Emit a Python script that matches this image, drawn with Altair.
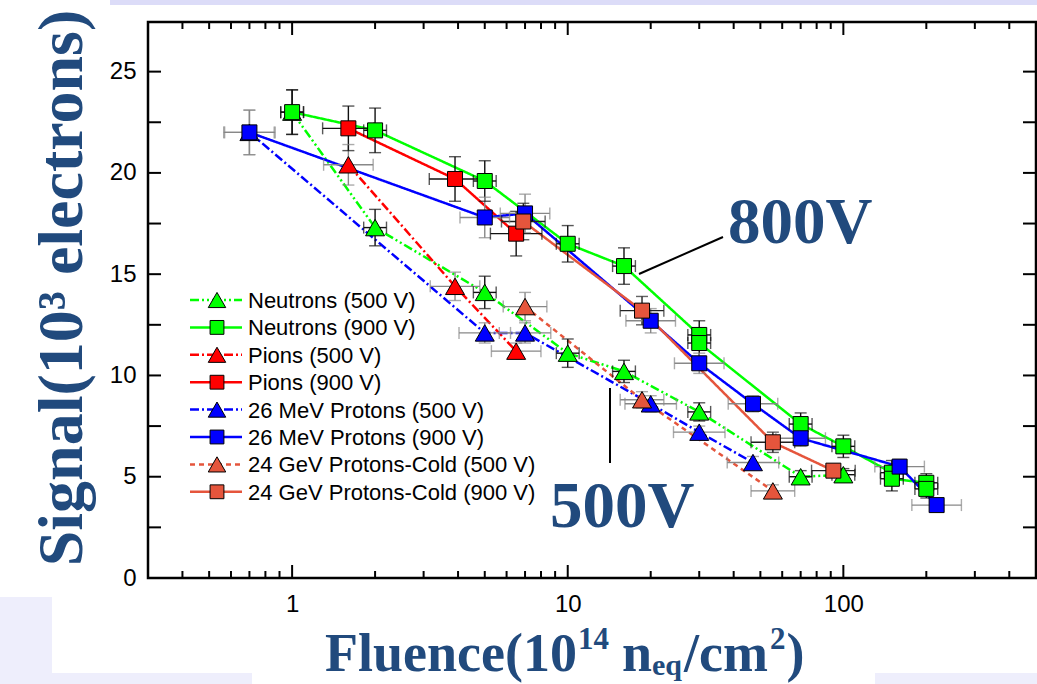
import altair as alt
import pandas as pd

# ---------------- data ----------------
names = ["Neutrons (500 V)", "Neutrons (900 V)", "Pions (500 V)", "Pions (900 V)",
         "26 MeV Protons (500 V)", "26 MeV Protons (900 V)",
         "24 GeV Protons-Cold (500 V)", "24 GeV Protons-Cold (900 V)"]
colors = ["#00FF00", "#00FF00", "#FF0000", "#FF0000",
          "#0000FF", "#0000FF", "#E5553C", "#E5553C"]
shapes = ["triangle-up", "square"] * 4
dashes = [[9, 3, 2, 3, 2, 3], [1, 0], [9, 3, 2, 3], [1, 0],
          [9, 3, 2, 3], [1, 0], [5, 4], [1, 0]]
err_colors = ["#111111", "#111111", "#888888", "#111111",
              "#888888", "#888888", "#888888", "#222222"]
x_err_factor = [1.1, 1.1, 1.23, 1.24, 1.24, 1.23, 1.2, 1.2]

n500_x = [1, 2, 5, 10, 16, 30, 70, 100]
n500_y = [23.0, 17.3, 14.1, 11.1, 10.2, 8.2, 5.0, 5.1]
n500_e = [1.1, 0.9, 0.8, 0.7, 0.55, 0.45, 0.3, 0.3]
n900_x = [1, 2, 5, 10, 16, 30, 30, 70, 100, 150, 150, 200, 200]
n900_y = [23.0, 22.1, 19.6, 16.5, 15.4, 12.0, 11.6, 7.6, 6.5, 5.2, 4.9, 4.7, 4.4]
n900_e = [1.1, 1.1, 1.0, 0.9, 0.9, 0.7, 0.7, 0.55, 0.55, 0.6, 0.6, 0.45, 0.45]
p500_x = [1.6, 3.9, 6.5]
p500_y = [20.4, 14.4, 11.2]
p500_e = [1.0, 0.7, 0.4]
p900_x = [1.6, 3.9, 6.5]
p900_y = [22.2, 19.7, 17.0]
p900_e = [1.1, 1.1, 1.1]
b500_x = [0.7, 5, 7, 20, 30, 47]
b500_y = [22.0, 12.1, 12.1, 8.6, 7.2, 5.7]
b500_e = [1.1, 0.5, 0.5, 0.4, 0.3, 0.3]
b900_x = [0.7, 5, 7, 20, 30, 47, 70, 160, 218]
b900_y = [22.0, 17.8, 18.0, 12.7, 10.6, 8.6, 6.9, 5.5, 3.6]
b900_e = [1.1, 1.0, 0.95, 0.6, 0.5, 0.4, 0.4, 0.35, 0.3]
o500_x = [7, 18.6, 55.5]
o500_y = [13.4, 8.8, 4.3]
o500_e = [0.7, 0.4, 0.3]
o900_x = [6.9, 18.6, 55.5, 92]
o900_y = [17.6, 13.2, 6.7, 5.3]
o900_e = [0.9, 0.7, 0.5, 0.3]

x_major = [1, 10, 100]
x_minor = [0.4, 0.5, 0.6, 0.7, 0.8, 0.9, 2, 3, 4, 5, 6, 7, 8, 9,
           20, 30, 40, 50, 60, 70, 80, 90, 200, 300, 400]
y_ticks = [2.5, 5, 7.5, 10, 12.5, 15, 17.5, 20, 22.5, 25]
y_labels = [0, 5, 10, 15, 20, 25]

# ---------------- layout ----------------
W, H = 888, 556
OX, OY = 148, 22
TITLE_BLUE = "#214A7D"
MSIZE = {"triangle-up": 360, "square": 225}

series_data = [(n500_x, n500_y, n500_e), (n900_x, n900_y, n900_e),
               (p500_x, p500_y, p500_e), (p900_x, p900_y, p900_e),
               (b500_x, b500_y, b500_e), (b900_x, b900_y, b900_e),
               (o500_x, o500_y, o500_e), (o900_x, o900_y, o900_e)]
rows = []
for i, (xs_, ys_, es_) in enumerate(series_data):
    for j, (xv, yv, ev) in enumerate(zip(xs_, ys_, es_)):
        rows.append(dict(series=names[i], x=xv, y=yv, ylo=yv - ev, yhi=yv + ev,
                         xlo=xv / x_err_factor[i], xhi=xv * x_err_factor[i],
                         idx=j, ecol=err_colors[i], msize=MSIZE[shapes[i]]))
df = pd.DataFrame(rows)

xscale = alt.Scale(type="log", domain=[0.3, 500], nice=False)
yscale = alt.Scale(domain=[0, 27.45], nice=False, zero=False)
xaxis = alt.Axis(values=x_major, format="d", ticks=False, domain=False, grid=False,
                 title=None, labelFont="Liberation Sans", labelFontSize=24,
                 labelColor="black", labelPadding=14)
yaxis = alt.Axis(values=y_labels, ticks=False, domain=False, grid=False,
                 title=None, labelFont="Liberation Sans", labelFontSize=24,
                 labelColor="black", labelPadding=12)


def X(f):
    return alt.X(f, type="quantitative", scale=xscale, axis=xaxis)


def Y(f):
    return alt.Y(f, type="quantitative", scale=yscale, axis=yaxis)


cscale = alt.Scale(domain=names, range=colors)
one = pd.DataFrame({"k": [0]})
layers = []


def rect(x1, x2, y1, y2, color):
    return alt.Chart(one).mark_rect(color=color).encode(
        x=alt.value(x1 - OX), x2=alt.value(x2 - OX),
        y=alt.value(y1 - OY), y2=alt.value(y2 - OY))


layers += [rect(110, 1037, 0, 5, "#DCDCF8"),
           rect(0, 52, 597, 684, "#EEEEFC"),
           rect(0, 1037, 673, 684, "#EEEEFC"),
           rect(252, 875, 613, 684, "#FFFFFF")]

base = alt.Chart(df)
ecol = alt.Color("ecol:N", scale=None)

layers.append(base.mark_line(strokeWidth=2.5).encode(
    x=X("x"), y=Y("y"),
    color=alt.Color("series:N", scale=cscale, legend=None),
    strokeDash=alt.StrokeDash("series:N", scale=alt.Scale(domain=names, range=dashes), legend=None),
    detail="series:N", order=alt.Order("idx:Q")))

layers.append(base.mark_rule(strokeWidth=1.4).encode(x=X("x"), y=Y("ylo"), y2="yhi:Q", color=ecol))
layers.append(base.mark_rule(strokeWidth=1.4).encode(x=X("xlo"), x2="xhi:Q", y=Y("y"), color=ecol))
for f in ["ylo", "yhi"]:
    layers.append(base.mark_tick(orient="horizontal", size=12, thickness=1.4).encode(
        x=X("x"), y=Y(f), color=ecol))
for f in ["xlo", "xhi"]:
    layers.append(base.mark_tick(orient="vertical", size=12, thickness=1.4).encode(
        x=X(f), y=Y("y"), color=ecol))

layers.append(base.mark_point(filled=True, stroke="black", strokeWidth=1, opacity=1).encode(
    x=X("x"), y=Y("y"),
    fill=alt.Fill("series:N", scale=cscale, legend=None),
    shape=alt.Shape("series:N", scale=alt.Scale(domain=names, range=shapes), legend=None),
    size=alt.Size("msize:Q", scale=None)))

# inward ticks on all four sides
tmaj = pd.DataFrame({"v": x_major})
tmin = pd.DataFrame({"v": x_minor})
tyy = pd.DataFrame({"v": y_ticks})
for d, L in [(tmaj, 13), (tmin, 7)]:
    layers.append(alt.Chart(d).mark_rule(color="black", strokeWidth=2).encode(
        x=X("v"), y=alt.value(H), y2=alt.value(H - L)))
    layers.append(alt.Chart(d).mark_rule(color="black", strokeWidth=2).encode(
        x=X("v"), y=alt.value(0), y2=alt.value(L)))
layers.append(alt.Chart(tyy).mark_rule(color="black", strokeWidth=2).encode(
    y=Y("v"), x=alt.value(0), x2=alt.value(13)))
layers.append(alt.Chart(tyy).mark_rule(color="black", strokeWidth=2).encode(
    y=Y("v"), x=alt.value(W), x2=alt.value(W - 13)))

# legend inside the plot
for i, nm in enumerate(names):
    ly = 278 + 27.4 * i
    layers.append(alt.Chart(one).mark_rule(color=colors[i], strokeWidth=2.5, strokeDash=dashes[i]).encode(
        x=alt.value(42), x2=alt.value(94), y=alt.value(ly)))
    layers.append(alt.Chart(one).mark_point(filled=True, fill=colors[i], stroke="black", strokeWidth=1,
                                            opacity=1, shape=shapes[i], size=MSIZE[shapes[i]] * 0.85).encode(
        x=alt.value(69), y=alt.value(ly)))
    layers.append(alt.Chart(one).mark_text(text=nm, align="left", baseline="middle", font="Liberation Sans",
                                           fontSize=22, color="black").encode(
        x=alt.value(100), y=alt.value(ly + 1)))


def ann_rule(x1, y1, x2, y2):
    return alt.Chart(one).mark_rule(color="black", strokeWidth=2).encode(
        x=alt.value(x1 - OX), y=alt.value(y1 - OY), x2=alt.value(x2 - OX), y2=alt.value(y2 - OY))


def txt(s, x, y, size, align="left", angle=0, baseline="alphabetic"):
    kw = dict(text=s, align=align, baseline=baseline, font="Liberation Serif", fontWeight="bold",
              fontSize=size, color=TITLE_BLUE)
    if angle:
        kw["angle"] = angle
    return alt.Chart(one).mark_text(**kw).encode(x=alt.value(x - OX), y=alt.value(y - OY))


layers.append(ann_rule(639, 274, 723, 237))
layers.append(ann_rule(610, 388, 610, 463))
layers.append(txt("800V", 728, 243, 65))
layers.append(txt("500V", 550, 527, 65))

# axis titles
layers.append(txt("Signal(10³ electrons)", 82, 288, 64, align="center", angle=270))

TW = {'(': 333, ')': 333, '/': 278, '0': 500, '1': 500, '2': 500, '4': 500,
      'F': 611, 'c': 444, 'e': 444, 'l': 278, 'm': 833, 'n': 556, 'q': 556, 'u': 556}
# (text, font size, baseline shift, gap before)
segs = [("Fluence(10", 54, 0, 0), ("14", 31, -22, 1), ("n", 54, 0, 13), ("eq", 30, 4, 0),
        ("/cm", 54, 0, 2), ("2", 31, -22, 2), (")", 54, 0, 1)]
cx = 325
for s, sz, dy, gap in segs:
    cx += gap
    layers.append(txt(s, cx, 671 + dy, sz))
    cx += sum(TW[c] for c in s) * sz / 1000.0

chart = alt.layer(*layers).properties(
    width=W, height=H,
    padding={"left": OX, "top": OY, "right": 1, "bottom": 684 - OY - H},
    autosize=alt.AutoSizeParams(type="none"),
    background="#FFFFFF",
).configure_view(stroke="black", strokeWidth=2.5)

chart.save("out.html", embed_options={"renderer": "svg", "actions": False})
